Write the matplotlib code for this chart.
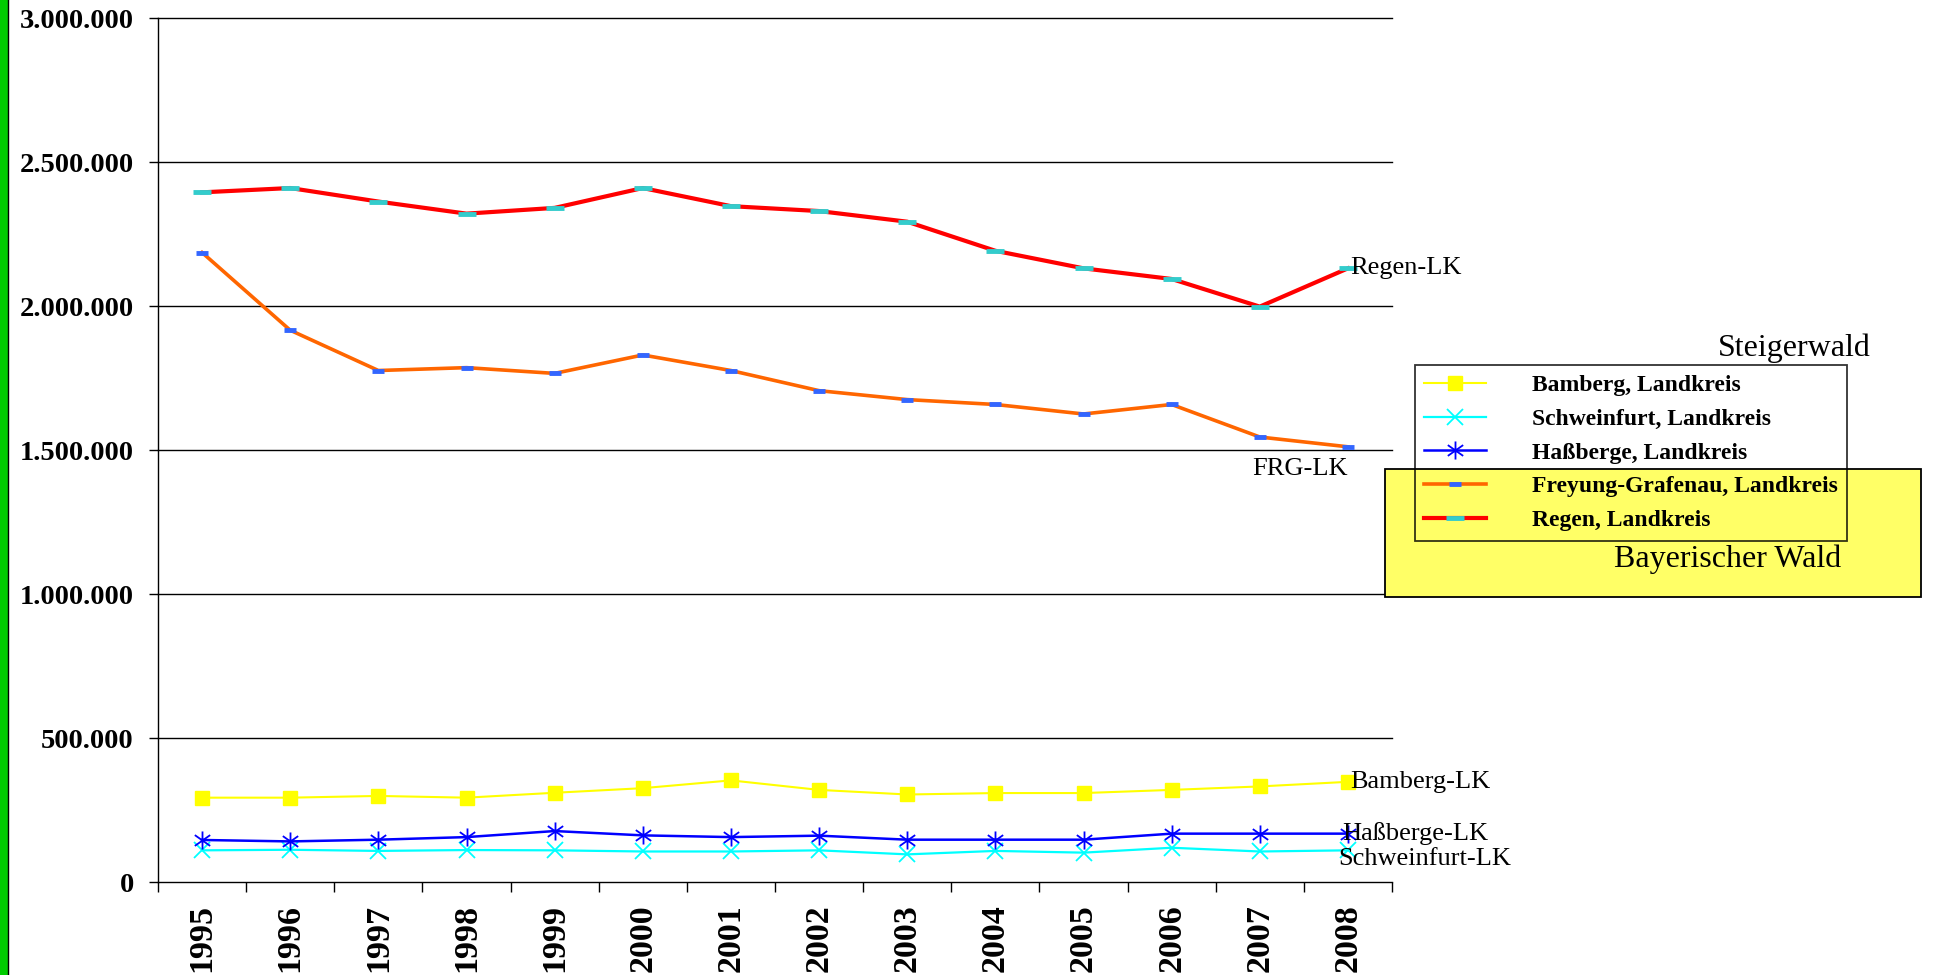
import matplotlib
matplotlib.use("Agg")
import matplotlib.pyplot as plt
import matplotlib.patches as mpatches
import matplotlib.lines as mlines
from matplotlib.path import Path
from matplotlib.ticker import FuncFormatter, FixedLocator
import numpy as np

plt.rcParams['font.family'] = ['Liberation Serif', 'DejaVu Serif']

years = ['1995', '1996', '1997', '1998', '1999', '2000', '2001',
         '2002', '2003', '2004', '2005', '2006', '2007', '2008']
bamberg = [293000, 293000, 299000, 293000, 310000, 326000, 353000,
           320000, 304000, 309000, 309000, 320000, 332000, 348000]
schweinfurt = [110000, 112000, 108000, 111000, 110000, 106000, 106000,
               110000, 96000, 108000, 102000, 119000, 106000, 110000]
hassberge = [146000, 141000, 147000, 156000, 177000, 162000, 156000,
             161000, 147000, 147000, 147000, 168000, 168000, 168000]
freyung = [2187000, 1917000, 1777000, 1787000, 1767000, 1831000, 1777000,
           1707000, 1676000, 1659000, 1626000, 1659000, 1546000, 1512000]
regen = [2396000, 2411000, 2364000, 2322000, 2342000, 2411000, 2348000,
         2331000, 2294000, 2193000, 2132000, 2095000, 1999000, 2132000]

series_names = ['Bamberg, Landkreis', 'Schweinfurt, Landkreis', 'Haßberge, Landkreis',
                'Freyung-Grafenau, Landkreis', 'Regen, Landkreis']
end_labels = ['Bamberg-LK', 'Schweinfurt-LK', 'Haßberge-LK', 'FRG-LK', 'Regen-LK']
yticks_vals = [0, 500000, 1000000, 1500000, 2000000, 2500000, 3000000]

W, H = 1935, 975
fig = plt.figure(figsize=(W / 100, H / 100), dpi=100)
ax = fig.add_axes([158 / W, 1 - 882 / H, (1392 - 158) / W, (882 - 18.5) / H])

x = np.arange(len(years)) + 0.5

# asterisk marker (vertical + X)
ast = Path([(0, -1), (0, 1), (-0.85, -0.6), (0.85, 0.6), (-0.85, 0.6), (0.85, -0.6)],
           [Path.MOVETO, Path.LINETO, Path.MOVETO, Path.LINETO, Path.MOVETO, Path.LINETO])

h_bam, = ax.plot(x, bamberg, color='#FFFF00', lw=1.5, marker='s', ms=10,
                 mfc='#FFFF00', mec='#FFFF00', zorder=3)
h_sch, = ax.plot(x, schweinfurt, color='#00FFFF', lw=1.6, marker='x', ms=11,
                 mec='#00FFFF', mew=1.3, zorder=3)
h_has, = ax.plot(x, hassberge, color='#0000FF', lw=1.8, marker=ast, ms=13,
                 mec='#0000FF', mfc='none', mew=1.3, zorder=3)
h_frg, = ax.plot(x, freyung, color='#FF6600', lw=2.6, marker='_', ms=8,
                 mec='#3366FF', mew=3.5, zorder=3)
h_reg, = ax.plot(x, regen, color='#FF0000', lw=3.0, marker='_', ms=13,
                 mec='#33CCCC', mew=3.5, zorder=3)

ax.set_xlim(0, len(years))
ax.set_ylim(0, 3000000)

# axes styling
for s in ['top', 'right', 'bottom']:
    ax.spines[s].set_visible(False)
ax.spines['left'].set_color('black')
ax.spines['left'].set_linewidth(1.0)

ax.yaxis.set_major_locator(FixedLocator(yticks_vals))
ax.yaxis.set_major_formatter(FuncFormatter(lambda v, p: f"{int(v):,}".replace(',', '.')))
ax.tick_params(axis='y', direction='out', length=6.5, width=1.0, pad=11,
               labelsize=20.5, colors='black')
for lab in ax.get_yticklabels():
    lab.set_fontweight('bold')

for v in yticks_vals:
    ax.axhline(v, color='black', lw=1.0, zorder=1, clip_on=False)

ax.xaxis.set_major_locator(FixedLocator(np.arange(len(years) + 1)))
ax.xaxis.set_minor_locator(FixedLocator(x))
ax.set_xticklabels([], minor=False)
ax.set_xticklabels(years, minor=True, rotation=90, fontsize=24.5, fontweight='bold',
                   va='top', ha='center')
ax.tick_params(axis='x', which='major', direction='out', length=7.2, width=1.0)
ax.tick_params(axis='x', which='minor', length=0, pad=16)

# end labels
lab_font = dict(fontsize=19, color='black')
ax.annotate('Regen-LK', xy=(x[-1], regen[-1]), xytext=(2, 0), textcoords='offset points',
            ha='left', va='center', **lab_font)
ax.annotate('FRG-LK', xy=(x[-1], freyung[-1]), xytext=(0, -16), textcoords='offset points',
            ha='right', va='center', **lab_font)
ax.annotate('Bamberg-LK', xy=(x[-1], bamberg[-1]), xytext=(2, 0), textcoords='offset points',
            ha='left', va='center', **lab_font)
ax.annotate('Haßberge-LK', xy=(x[-1], hassberge[-1]), xytext=(-4.3, 0), textcoords='offset points',
            ha='left', va='center', **lab_font)
ax.annotate('Schweinfurt-LK', xy=(x[-1], schweinfurt[-1]), xytext=(-7, -6.5),
            textcoords='offset points', ha='left', va='center', **lab_font)

# yellow Bayerischer Wald box
rect = mpatches.Rectangle((1385 / W, 1 - 597 / H), (1921 - 1385) / W, (597 - 469) / H,
                          transform=fig.transFigure, facecolor='#FFFF66',
                          edgecolor='black', lw=1.3, zorder=2)
fig.add_artist(rect)
fig.text(1614 / W, 1 - 559 / H, 'Bayerischer Wald', fontsize=23, ha='left', va='center', zorder=3)
fig.text(1718 / W, 1 - 348 / H, 'Steigerwald', fontsize=23, ha='left', va='center', zorder=3)

# legend
leg = fig.legend([h_bam, h_sch, h_has, h_frg, h_reg], series_names,
                 loc='upper left', bbox_to_anchor=(1415 / W, 1 - 365 / H),
                 bbox_transform=fig.transFigure, borderaxespad=0,
                 prop={'family': 'Liberation Serif', 'weight': 'bold', 'size': 17},
                 handlelength=2.6, handletextpad=1.95, labelspacing=0.52,
                 borderpad=0.4, fancybox=False, frameon=True)
leg.get_frame().set_facecolor('none')
leg.get_frame().set_edgecolor('black')
leg.get_frame().set_linewidth(1.3)
leg.set_zorder(5)

# green bar on left
fig.add_artist(mpatches.Rectangle((0, 0), 7.5 / W, 1, transform=fig.transFigure,
                                  facecolor='#00CC00', edgecolor='none', zorder=4))
fig.add_artist(mlines.Line2D([8 / W, 8 / W], [0, 1], transform=fig.transFigure,
                             color='black', lw=1.0, zorder=4))

fig.savefig('out.png', dpi=100)
